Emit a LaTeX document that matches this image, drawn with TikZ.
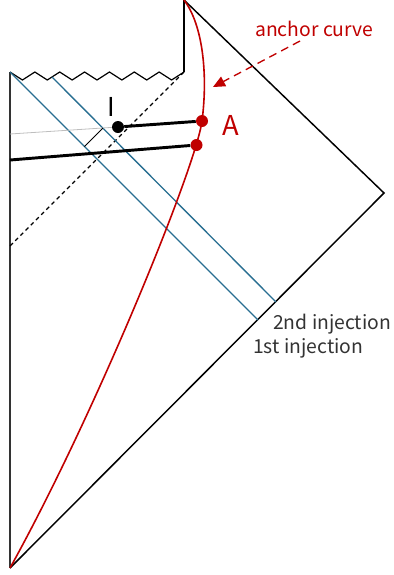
\documentclass[tikz,border=0pt]{standalone}
\usepackage{fontspec}
\setmainfont{Noto Sans CJK JP}
\usetikzlibrary{arrows.meta}
\definecolor{dred}{RGB}{192,0,0}
\definecolor{tblue}{RGB}{40,110,145}
\definecolor{tgray}{RGB}{51,51,51}
\definecolor{lgray}{RGB}{190,190,190}
\tikzset{
  bound/.style={line width=1.1pt, black},
  leftbound/.style={line width=1.5pt, tgray},
  ray/.style={line width=1pt, tblue},
  slice/.style={line width=2.2pt, black},
  dotblack/.style={circle, fill=black, inner sep=0pt, minimum size=9pt},
  dotred/.style={circle, fill=dred, inner sep=0pt, minimum size=9pt},
  lbl/.style={inner sep=0pt, text=tgray, font=\fontsize{14.5}{17}\selectfont},
}
\begin{document}
\begin{tikzpicture}[x=0.75pt,y=-0.75pt]
\useasboundingbox (0,0) rectangle (393,575);
% corners
\coordinate (B) at (10,568);
\coordinate (TL) at (10,72);
\coordinate (TR) at (184,72);
\coordinate (T) at (184,0);
\coordinate (R) at (384,193);
\coordinate (DL) at (10,246);
% blue rays
\coordinate (b1s) at (10,72);
\coordinate (b1e) at (258,320);
\coordinate (b2s) at (52,77);
\coordinate (b2e) at (276,302);
% gray / thin
\coordinate (g1) at (10,134);
\coordinate (gx) at (103,128);
\coordinate (gy) at (84.5,146.5);
\coordinate (L2) at (10,160);
% boundaries
\draw[bound] (T) -- (R) -- (B);
\draw[leftbound] (TL) -- (B);
\draw[bound] (TR) -- (T);
\draw[bound, line width=0.9pt, line join=miter] (TL) foreach \k in {1,...,7} { -- ++(12.43,8) -- ++(12.43,-8) };
\draw[black, line width=0.8pt, dash pattern=on 3pt off 2.5pt] (TR) -- (DL);
% rays
\draw[ray] (b1s) -- (b1e);
\draw[ray] (b2s) -- (b2e);
% red anchor curve
\draw[dred, line width=1.2pt] (T) .. controls (203,25) and (208,75) .. (202,121)
      .. controls (196,167) and (95,415) .. (B);
% dots
\node[dotblack] (I) at (118,127) {};
\node[dotred] (A) at (202,121) {};
\node[dotred] (A2) at (196.5,145) {};
% slices
\draw[lgray, line width=0.6pt] (g1) -- (I);
\draw[black, line width=0.7pt] (gx) -- (gy);
\draw[slice] (I) -- (A);
\draw[slice] (L2) -- (A2);
% labels
\node[inner sep=0pt, anchor=base, font=\fontsize{19.5}{22}\selectfont] (Ilbl) at (111,116) {I};
\node[inner sep=0pt, anchor=base west, text=dred, font=\fontsize{20.5}{24}\selectfont] (Albl) at (222,135) {A};
\node[inner sep=0pt, anchor=base west, text=dred, font=\fontsize{14.5}{17}\selectfont] (anc) at (255,36) {anchor curve};
\coordinate (arrS) at (300,41);
\coordinate (arrE) at (213,87);
\draw[dred, line width=1pt, dash pattern=on 6pt off 4pt, -{Triangle[length=9pt,width=8pt]}] (arrS) -- (arrE);
\node[lbl, anchor=base west] (inj2) at (273,329) {2nd injection};
\node[lbl, anchor=base west] (inj1) at (253,353) {1st injection};
\end{tikzpicture}
\end{document}
